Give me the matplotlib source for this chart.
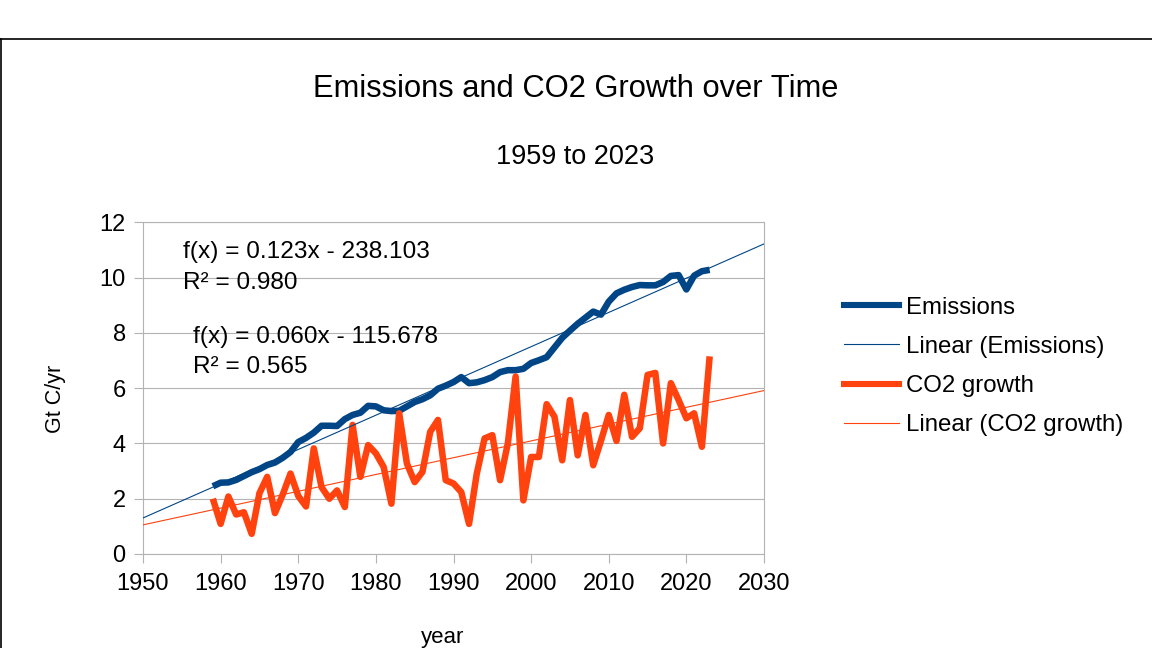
import matplotlib
matplotlib.use("Agg")
import matplotlib.pyplot as plt
from matplotlib.lines import Line2D
import numpy as np

plt.rcParams['font.family'] = ['Liberation Sans', 'DejaVu Sans']

years = list(range(1959, 2024))
emissions = [2.45, 2.58, 2.59, 2.68, 2.82, 2.96, 3.07, 3.22, 3.31, 3.48,
             3.69, 4.05, 4.20, 4.39, 4.64, 4.64, 4.63, 4.88, 5.03, 5.11,
             5.36, 5.34, 5.20, 5.17, 5.18, 5.34, 5.50, 5.60, 5.74, 5.98,
             6.09, 6.22, 6.40, 6.18, 6.21, 6.29, 6.40, 6.58, 6.65, 6.65,
             6.70, 6.91, 7.01, 7.12, 7.47, 7.82, 8.08, 8.33, 8.55, 8.77,
             8.66, 9.13, 9.43, 9.56, 9.66, 9.73, 9.72, 9.72, 9.84, 10.06,
             10.09, 9.57, 10.07, 10.23, 10.28]
co2_growth = [2.00, 1.09, 2.08, 1.43, 1.51, 0.73, 2.20, 2.79, 1.48, 2.15,
              2.91, 2.10, 1.72, 3.82, 2.42, 2.00, 2.30, 1.70, 4.67, 2.79,
              3.94, 3.64, 3.15, 1.82, 5.09, 3.27, 2.60, 2.97, 4.42, 4.85,
              2.67, 2.55, 2.24, 1.09, 2.91, 4.18, 4.30, 2.67, 4.00, 6.42,
              1.94, 3.51, 3.51, 5.42, 4.97, 3.39, 5.57, 3.57, 5.03, 3.21,
              4.10, 5.03, 4.09, 5.76, 4.24, 4.55, 6.48, 6.55, 4.00, 6.18,
              5.57, 4.91, 5.09, 3.88, 7.15]

title = "Emissions and CO2 Growth over Time"
subtitle = "1959 to 2023"
eq_emis = ["f(x) = 0.123x - 238.103", "R² = 0.980"]
eq_co2 = ["f(x) = 0.060x - 115.678", "R² = 0.565"]
x_ticks = [1950, 1960, 1970, 1980, 1990, 2000, 2010, 2020, 2030]
y_ticks = [0, 2, 4, 6, 8, 10, 12]

BLUE = '#004586'
ORANGE = '#ff420e'
GRAY = '#b3b3b3'

W, H = 1152, 648
fig = plt.figure(figsize=(W / 100, H / 100), dpi=100)
fig.patch.set_facecolor('white')

ax = fig.add_axes([143 / W, 1 - 554 / H, (764 - 143) / W, (554 - 222.3) / H])

yrs = np.array(years, dtype=float)
trend_x = np.array([x_ticks[0], x_ticks[-1]], dtype=float)
pe = np.polyfit(yrs, np.array(emissions), 1)
pc = np.polyfit(yrs, np.array(co2_growth), 1)

ax.plot(trend_x, np.polyval(pe, trend_x), color=BLUE, lw=0.8, zorder=4,
        label='Linear (Emissions)')
ax.plot(trend_x, np.polyval(pc, trend_x), color=ORANGE, lw=0.8, zorder=4,
        label='Linear (CO2 growth)')
ax.plot(years, emissions, color=BLUE, lw=4.7, zorder=3,
        solid_joinstyle='round', solid_capstyle='butt', label='Emissions')
ax.plot(years, co2_growth, color=ORANGE, lw=4.7, zorder=3,
        solid_joinstyle='round', solid_capstyle='butt', label='CO2 growth')

ax.set_xlim(x_ticks[0], x_ticks[-1])
ax.set_ylim(y_ticks[0], y_ticks[-1])
ax.set_xticks(x_ticks)
ax.set_yticks(y_ticks)
ax.yaxis.grid(True, color=GRAY, lw=0.8)
ax.set_axisbelow(True)
for s in ax.spines.values():
    s.set_color(GRAY)
    s.set_linewidth(0.8)
ax.tick_params(axis='both', colors=GRAY, labelcolor='black', labelsize=17,
               length=6.5, width=0.8)
ax.tick_params(axis='x', pad=7)
ax.tick_params(axis='y', pad=6)

handles = [
    Line2D([], [], color=BLUE, lw=4.4),
    Line2D([], [], color=BLUE, lw=0.8),
    Line2D([], [], color=ORANGE, lw=4.4),
    Line2D([], [], color=ORANGE, lw=0.8),
]
labels = ['Emissions', 'Linear (Emissions)', 'CO2 growth', 'Linear (CO2 growth)']
fig.legend(handles, labels, loc='center left',
           bbox_to_anchor=(844 / W, 1 - 366.5 / H), frameon=False,
           fontsize=17.3, handlelength=2.3, handletextpad=0.3,
           labelspacing=0.72, borderpad=0, borderaxespad=0)

fig.text(575.5 / W, 1 - 89 / H, title, ha='center', va='center', fontsize=22.2)
fig.text(575.5 / W, 1 - 157 / H, subtitle, ha='center', va='center', fontsize=19.5)

fig.text(183 / W, 1 - 252 / H, eq_emis[0], ha='left', va='center', fontsize=17.6)
fig.text(183 / W, 1 - 283 / H, eq_emis[1], ha='left', va='center', fontsize=17.6)
fig.text(193 / W, 1 - 337 / H, eq_co2[0], ha='left', va='center', fontsize=17.6)
fig.text(193 / W, 1 - 367 / H, eq_co2[1], ha='left', va='center', fontsize=17.6)

fig.text(55 / W, 1 - 399 / H, "Gt C/yr", rotation=90, ha='center', va='center',
         fontsize=15.5)
fig.text(443 / W, 1 - 637 / H, "year", ha='center', va='center', fontsize=16)

# outer frame lines (top and left)
fig.add_artist(Line2D([0, 1], [1 - 39 / H, 1 - 39 / H], transform=fig.transFigure,
                      color='black', lw=1.2))
fig.add_artist(Line2D([0.5 / W, 0.5 / W], [0, 1 - 39 / H], transform=fig.transFigure,
                      color='black', lw=1.2))

fig.savefig('out.png', dpi=100, facecolor='white')
